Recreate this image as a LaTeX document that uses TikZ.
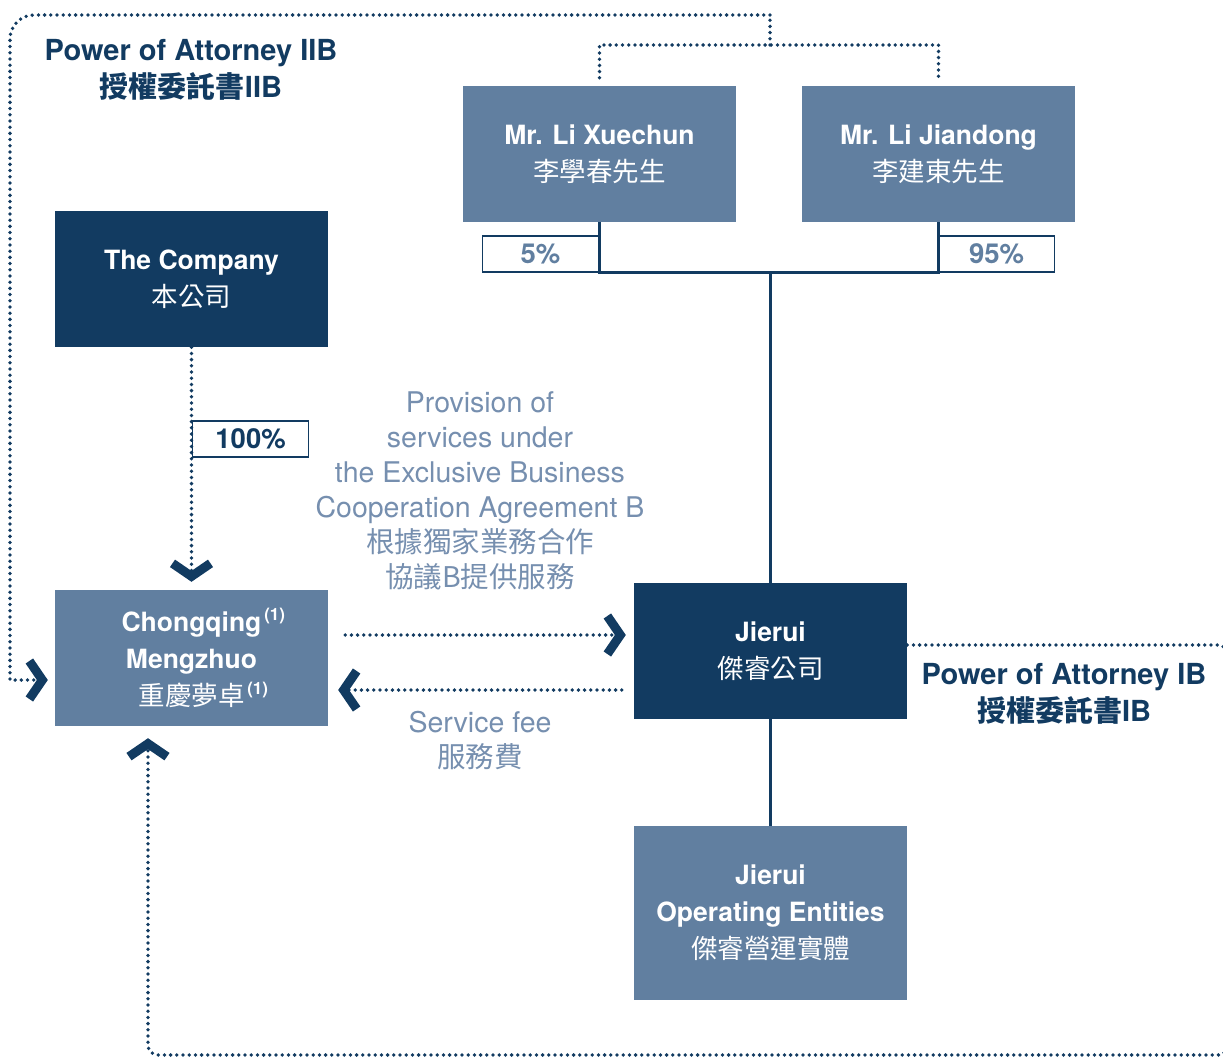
\documentclass[tikz,border=0pt]{standalone}
\usepackage{fontspec}
\setmainfont{TeX Gyre Heros}
\newfontfamily\cjk{Noto Sans CJK TC}
\usetikzlibrary{arrows.meta}
\definecolor{navy}{RGB}{18,59,97}
\definecolor{slate}{RGB}{97,127,160}
\definecolor{mist}{RGB}{118,143,175}
\newcommand\zh[1]{{\cjk\mdseries #1}}
\newcommand\zhb[1]{{\cjk #1}}
\newcommand\fnote{\rlap{\raisebox{11pt}{\fontsize{17}{17}\selectfont\,(1)}}}
\tikzset{
  box/.style={minimum width=273pt,minimum height=136pt,inner sep=0pt,align=center,text=white,
    font=\fontsize{26.5}{37}\selectfont\bfseries},
  darkbox/.style={box,fill=navy},
  lightbox/.style={box,fill=slate},
  pct/.style={draw=navy,line width=1.2pt,minimum width=116pt,minimum height=36pt,inner sep=0pt,
    font=\fontsize{27.5}{27.5}\selectfont\bfseries},
  dots/.style={navy,line width=3.8pt,line cap=round,dash pattern=on 0pt off 6.2pt},
  link/.style={navy,line width=2.5pt},
  chev/.style={-{Straight Barb[length=13pt,width=38pt,line width=9pt]}},
  note/.style={align=center,text=mist,font=\fontsize{28.5}{35}\selectfont},
  poa/.style={align=center,text=navy,font=\fontsize{29}{37}\selectfont\bfseries}
}
\begin{document}
\begin{tikzpicture}[x=1pt,y=-1pt]
\useasboundingbox (0,0) rectangle (1223,1057);
\node[lightbox] (xue) at (599.5,154) {Mr. Li Xuechun\\\zh{李學春先生}};
\node[lightbox] (jian) at (938.5,154) {Mr. Li Jiandong\\\zh{李建東先生}};
\node[darkbox] (co) at (191.5,279) {The Company\\\zh{本公司}};
\node[lightbox] (cq) at (191.5,658) {Chongqing\fnote\\Mengzhuo\\\zh{重慶夢卓}\fnote};
\node[darkbox] (jr) at (770.5,651) {Jierui\\\zh{傑睿公司}};
\node[lightbox,minimum height=174pt] (ops) at (770.5,913) {Jierui\\Operating Entities\\\zh{傑睿營運實體}};
\node[pct,text=slate,anchor=east] (p5) at (599,254) {5\%};
\node[pct,text=slate,anchor=west] (p95) at (938,254) {95\%};
\node[pct,text=navy,anchor=west] (p100) at (192,439) {100\%};
\node[poa] (poa2) at (191,70) {Power of Attorney IIB\\\zhb{授權委託書}IIB};
\node[poa] (poa1) at (1064,694) {Power of Attorney IB\\\zhb{授權委託書}IB};
\node[note] (svc) at (480,491) {Provision of\\services under\\the Exclusive Business\\Cooperation Agreement B\\\zh{根據獨家業務合作}\\\zh{協議B提供服務}};
\node[note] (fee) at (480,740) {Service fee\\\zh{服務費}};
\coordinate (top) at (770,15);
\coordinate (mid) at (770,45);
\draw[link] (xue.south) -- (xue.south |- p5.south) -| (jian.south);
\draw[link] (jr.north) -- (jr.north |- p5.south);
\draw[link] (jr.south) -- (ops.north);
\draw[dots] ([yshift=8pt]xue.north) |- (mid) -| ([yshift=8pt]jian.north);
\draw[dots] (mid) -- (top);
\draw[dots,chev,shorten >=7pt] (top) [rounded corners=24pt] -- (10,15) [sharp corners] -- (10,680) -- ([yshift=-22pt]cq.west);
\draw[dots,chev,shorten >=8pt] (co.south) -- (cq.north);
\draw[dots,chev,shorten >=8pt] ([xshift=17pt,yshift=23pt]cq.east) -- ([yshift=16pt]jr.west);
\draw[dots,chev,shorten >=10pt] ([xshift=-12pt,yshift=-39pt]jr.west) -- ([yshift=-32pt]cq.east);
\draw[dots,chev,shorten >=12pt] ([yshift=6pt]jr.east) [rounded corners=10pt] -- (1228,645) -- (1228,1055) -- (148,1055) [sharp corners] -- ([xshift=-43.5pt]cq.south);
\end{tikzpicture}
\end{document}
